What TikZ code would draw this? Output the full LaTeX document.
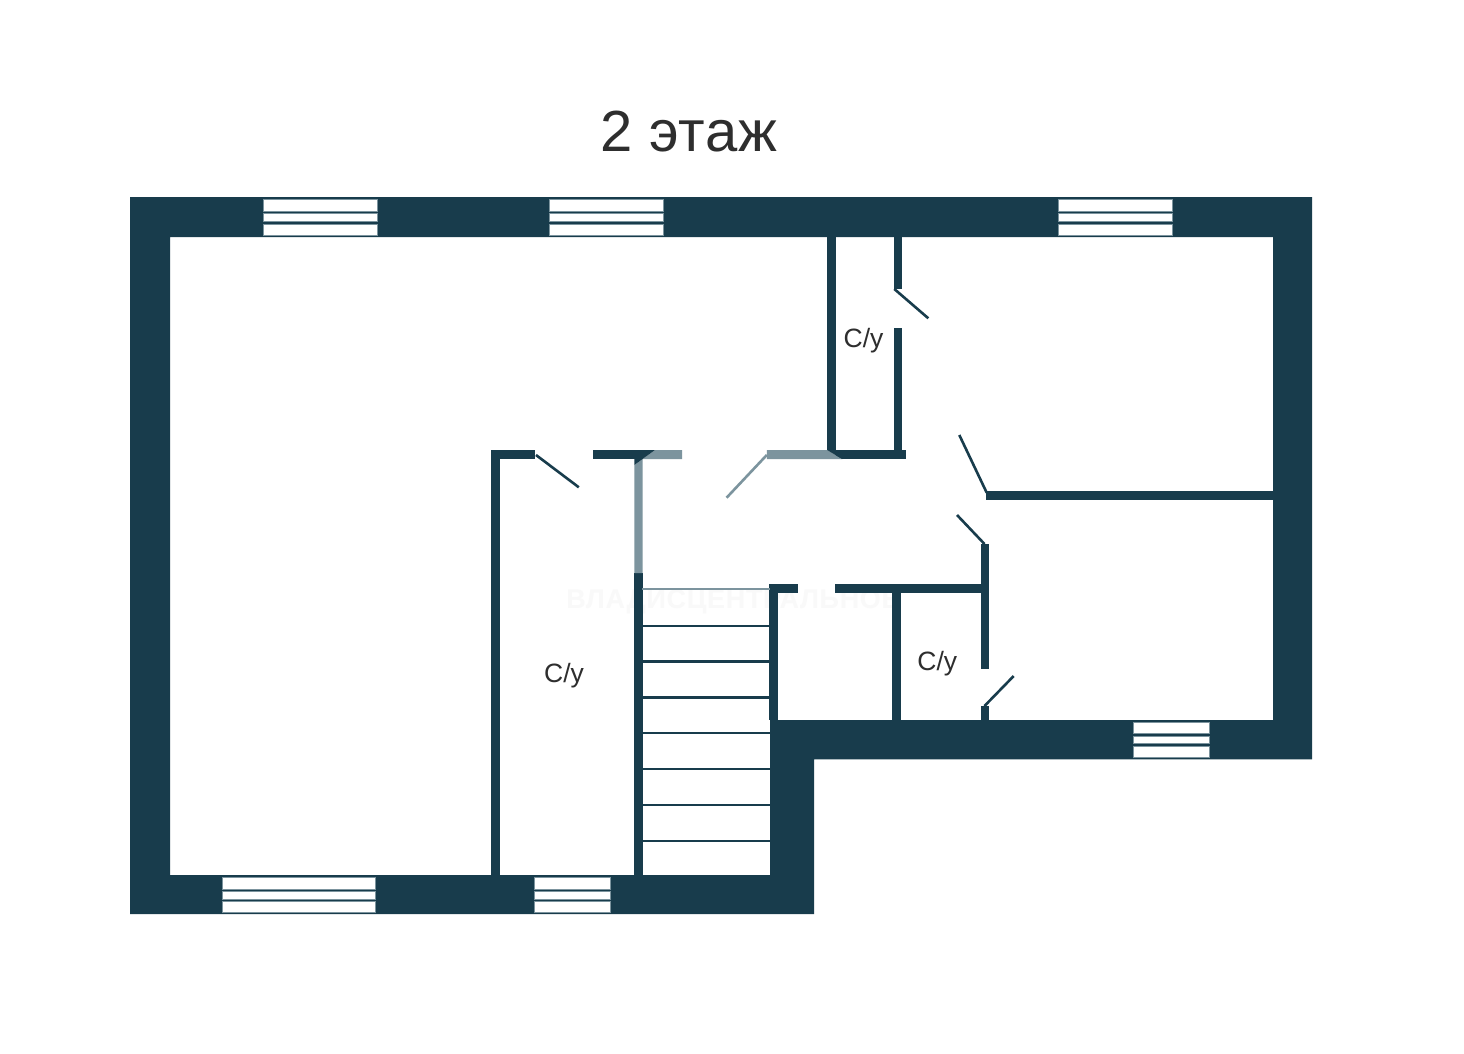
\documentclass[tikz,border=0pt]{standalone}
\usepackage{fontspec}
\setmainfont{Liberation Sans}
\usepackage{tikz}
\definecolor{wallblue}{HTML}{183C4C}
\definecolor{washblue}{HTML}{7C949E}
\definecolor{inkgray}{HTML}{2E2E2E}
\definecolor{markgray}{HTML}{F9F9F9}
\tikzset{
    wall/.style={fill=wallblue},
    washed/.style={fill=washblue},
    doorleaf/.style={draw=wallblue, line width=2.6pt},
    tread/.style={draw=wallblue, line width=2.2pt},
    pane/.style={fill=white, draw=washblue, line width=0.4pt},
    roomlabel/.style={text=inkgray, font=\fontsize{26.5}{32}\selectfont, anchor=base, inner sep=0pt}
}

\begin{document}
\begin{tikzpicture}[x=1pt, y=-1pt]
    \useasboundingbox (0,0) rectangle (1464,1054);
    \fill[white] (0,0) rectangle (1464,1054);

    % Title
    \node[text=inkgray, font=\fontsize{58}{68}\selectfont\addfontfeature{LetterSpace=1.6}, anchor=base west, inner sep=0pt] (title) at (600,151.7) {2 этаж};

    % Faint mark
    \node[text=markgray, font=\fontsize{27}{32}\selectfont\bfseries\addfontfeature{LetterSpace=2.5}, anchor=base, inner sep=0pt] (mark) at (733,608) {ВЛАДИСЦЕНТРАЛЬНОЕ};

    % Outer walls
    \fill[wall, even odd rule]
        (130,197) -- (1312,197) -- (1312,759.3) -- (814,759.3) -- (814,914) -- (130,914) -- cycle
        (170,237) -- (1273,237) -- (1273,720) -- (770,720) -- (770,875) -- (170,875) -- cycle;

    % Windows
    \foreach \xa/\xb in {262.7/376.7, 549/663, 1058.3/1172} {
        \filldraw[pane] (\xa,199.3) rectangle (\xb,210.7);
        \filldraw[pane] (\xa,213.3) rectangle (\xb,221);
        \filldraw[pane] (\xa,223.7) rectangle (\xb,235);
    }
    \foreach \xa/\xb in {221.7/374.7, 534.3/609.7} {
        \filldraw[pane] (\xa,877.3) rectangle (\xb,888.7);
        \filldraw[pane] (\xa,891) rectangle (\xb,898.7);
        \filldraw[pane] (\xa,901) rectangle (\xb,912.3);
    }
    \filldraw[pane] (1133.3,722.3) rectangle (1208.7,733.3);
    \filldraw[pane] (1133.3,735.7) rectangle (1208.7,743.3);
    \filldraw[pane] (1133.3,745.7) rectangle (1208.7,757);

    % Inner walls
    \foreach \xa/\ya/\xb/\yb in {
        491/450/499.5/875, 491/450/535/459,
        593/450/640/459, 634.3/573/642.7/875,
        827/237/835.7/450, 835/450/906.3/459,
        893.7/237/902.3/289, 893.7/327.7/902.3/450,
        986.3/491.3/1273/499.7, 980.7/544/989/669.3, 980.7/706/989/720,
        769.3/584/797.5/592.7, 834.7/584/985/592.7,
        769.3/584/777.6/720, 892.2/592/900.5/720} {
        \fill[wall] (\xa,\ya) rectangle (\xb,\yb);
    }

    % Washed wall parts
    \fill[washed] (655,450) -- (682,450) -- (682,459) -- (642.7,459) -- (642.7,573) -- (634.3,573) -- (634.3,465) -- cycle;
    \fill[wall] (634.3,450) -- (655,450) -- (634.3,465) -- cycle;
    \fill[washed] (766.8,450) -- (827,450) -- (842,459) -- (766.8,459) -- cycle;
    \fill[wall] (827,450) -- (835.7,450) -- (842,459) -- cycle;

    % Doors
    \foreach \xa/\ya/\xb/\yb in {
        536/455/578.8/487.3, 894.3/289/928.3/318.3,
        959.3/435/986.7/492.7, 957/515/984.5/544,
        1013.7/676/984.5/706} {
        \draw[doorleaf] (\xa,\ya) -- (\xb,\yb);
    }
    \draw[doorleaf, draw=washblue] (766.8,455) -- (726.6,497.7);

    % Stairs
    \foreach \y in {625.7,661.5,697.5,733.3,769,805,841} {
        \draw[tread] (642,\y) -- (770,\y);
    }
    \draw[tread, draw=washblue] (642,589) -- (770,589);

    % Room labels
    \node[roomlabel] (wcupper) at (863.5,347.5) {С/у};
    \node[roomlabel] (wcleft) at (564,682.3) {С/у};
    \node[roomlabel] (wclower) at (937.3,670) {С/у};
\end{tikzpicture}
\end{document}
